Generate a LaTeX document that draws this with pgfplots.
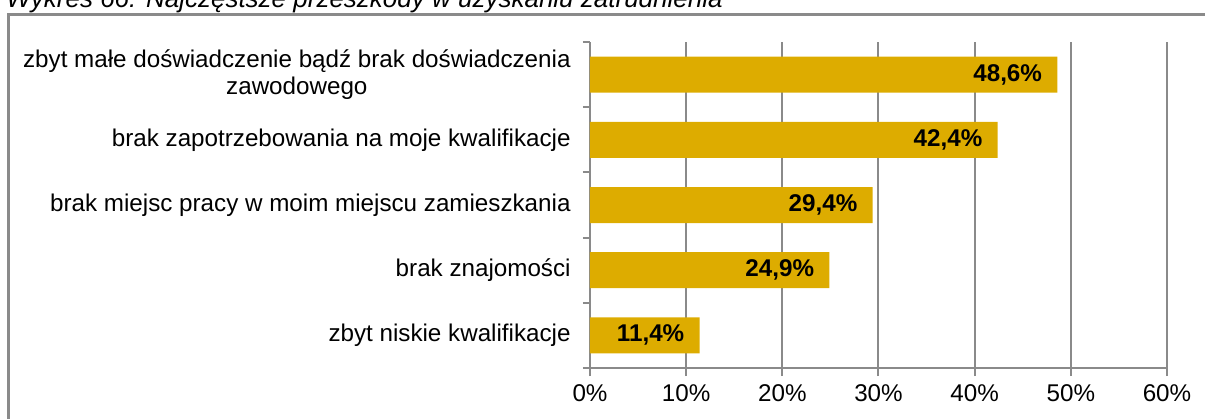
\documentclass[border=0pt]{standalone}
\usepackage{pgfplots}
\pgfplotsset{compat=1.18}
\usepackage{fontspec}
\setmainfont{Liberation Sans}
\definecolor{bargold}{RGB}{221,172,0}
\definecolor{gridgray}{RGB}{138,138,138}
\begin{document}
\begin{tikzpicture}
\useasboundingbox (0,0) rectangle (602.5pt,209pt);
\clip (0,0) rectangle (602.5pt,209pt);
\node[anchor=base west, inner sep=0, font=\fontsize{13}{15}\selectfont\itshape] at (3pt,205.3pt) {Wykres 66: Najczęstsze przeszkody w uzyskaniu zatrudnienia};
\draw[gridgray, line width=1.1pt] (4.2pt,-20pt) rectangle (640pt,201.75pt);
\begin{axis}[
  at={(295pt,25pt)}, anchor=south west,
  scale only axis, width=288.5pt, height=163pt,
  xbar, xmin=0, xmax=60, ymin=0.5, ymax=5.5,
  bar width=18pt,
  /pgf/number format/assume math mode=true,
  font=\fontsize{12.1}{13.5}\selectfont,
  xtick={0,10,...,60},
  xticklabel={\pgfmathprintnumber{\tick}\%},
  ytick={1,2,3,4,5},
  yticklabels={zbyt niskie kwalifikacje, brak znajomości, brak miejsc pracy w moim miejscu zamieszkania, brak zapotrzebowania na moje kwalifikacje, {zbyt małe doświadczenie bądź brak doświadczenia\\zawodowego}},
  minor ytick={0.5,1.5,...,5.5},
  axis lines*=left,
  axis line style={gridgray, line width=1pt},
  xmajorgrids, major grid style={gridgray, line width=1pt},
  tick align=outside,
  major tick length=4pt, minor tick length=3.5pt,
  major y tick style={draw=none},
  minor y tick style={gridgray, line width=1pt},
  major x tick style={gridgray, line width=1pt},
  yticklabel style={align=center, inner sep=0pt, xshift=-5.5pt},
  xticklabel style={inner sep=0pt, yshift=-4pt},
  nodes near coords={\pgfmathprintnumber[use comma, fixed, fixed zerofill, precision=1]{\pgfplotspointmeta}\%},
  every node near coord/.append style={anchor=east, inner sep=0pt, xshift=-7.5pt, font=\fontsize{12.1}{13.5}\selectfont\bfseries, text=black},
]
\addplot[fill=bargold, draw=none] coordinates {(11.4,1) (24.9,2) (29.4,3) (42.4,4) (48.6,5)};
\end{axis}
\end{tikzpicture}
\end{document}
